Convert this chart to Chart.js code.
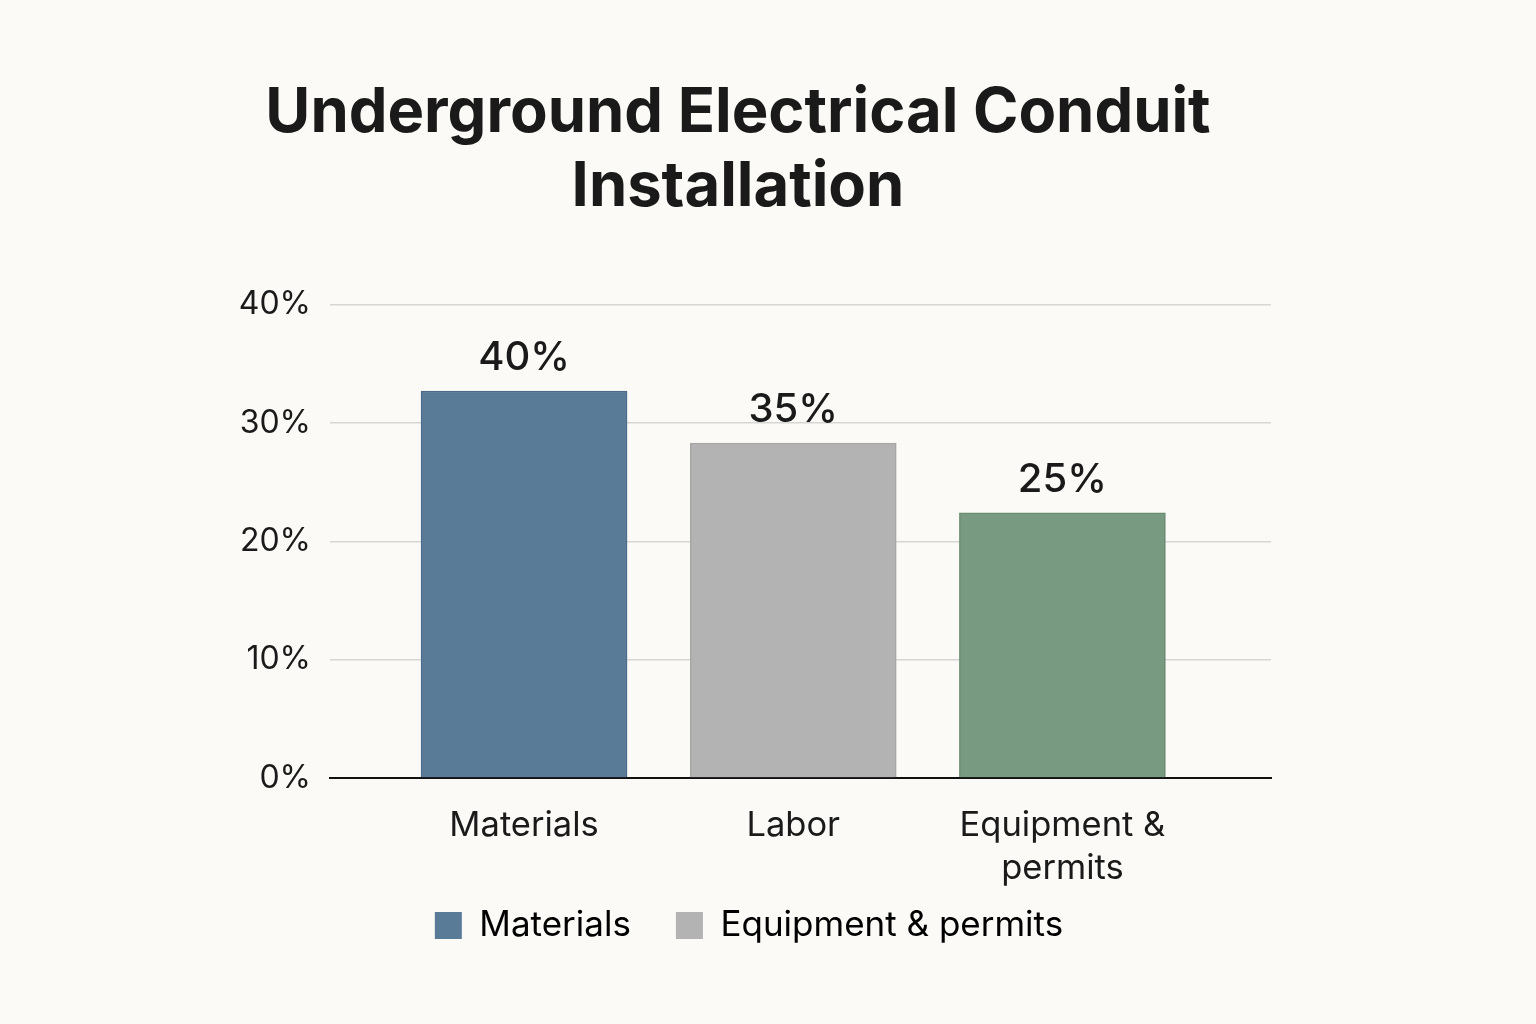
<!DOCTYPE html>
<html lang="en">
<head>
    <meta charset="UTF-8">
    <title>Underground Electrical Conduit Installation</title>
    <script src="https://cdn.jsdelivr.net/npm/chart.js"></script>
    <style>
        html, body {
            margin: 0;
            padding: 0;
            background: #fbfaf6;
        }
        #costChart {
            display: block;
        }
    </style>
</head>
<body>
    <canvas id="costChart" width="1536" height="1024"></canvas>

    <script>
        // Chart data
        const categories = ['Materials', 'Labor', 'Equipment & permits'];
        const categoryTickLines = [['Materials'], ['Labor'], ['Equipment &', 'permits']];
        const barValues = [32.7, 28.3, 22.4];
        const barLabels = ['40%', '35%', '25%'];
        const yTicks = [0, 10, 20, 30, 40];
        const legendNames = ['Materials', 'Equipment & permits'];

        const barColors = ['#5a7b98', '#b3b3b3', '#789a80'];
        const barBorders = ['#4b6b88', '#a6a6a6', '#6a8b72'];
        const legendColors = ['#5a7b98', '#b3b3b3'];

        const textColor = '#1a1a1a';
        const fontFamily = 'Inter, "Noto Sans", sans-serif';

        // Paint the canvas background
        const backgroundPlugin = {
            id: 'background',
            beforeDraw(chart) {
                const ctx = chart.ctx;
                ctx.save();
                ctx.fillStyle = '#fbfaf6';
                ctx.fillRect(0, 0, chart.width, chart.height);
                ctx.restore();
            }
        };

        // x axis is squeezed so the legend sits closer; let its labels spill down.
        // legend is nudged right a little to sit where the original has it
        const layoutTweakPlugin = {
            id: 'layoutTweak',
            afterLayout(chart) {
                chart.scales.x.bottom += 40;
                chart.legend.left += 11;
                chart.legend.right += 11;
            }
        };

        // Value labels above bars
        const barLabelPlugin = {
            id: 'barLabels',
            afterDatasetsDraw(chart) {
                const ctx = chart.ctx;
                const meta = chart.getDatasetMeta(0);
                ctx.save();
                ctx.font = '500 40px ' + fontFamily;
                ctx.fillStyle = textColor;
                ctx.textAlign = 'center';
                ctx.textBaseline = 'alphabetic';
                meta.data.forEach((bar, i) => {
                    ctx.fillText(barLabels[i], bar.x, bar.y - 21);
                });
                ctx.restore();
            }
        };

        new Chart(document.getElementById('costChart'), {
            type: 'bar',
            data: {
                datasets: [{
                    label: 'Cost share',
                    data: barValues.map((v, i) => ({ x: i, y: v })),
                    backgroundColor: barColors,
                    borderColor: barBorders,
                    borderWidth: 1.5,
                    barThickness: 206
                }]
            },
            options: {
                responsive: false,
                animation: false,
                devicePixelRatio: 1,
                layout: {
                    padding: { left: 205, right: 265, top: 77, bottom: 71 }
                },
                scales: {
                    x: {
                        type: 'linear',
                        offset: false,
                        min: -0.721,
                        max: 2.775,
                        grid: { display: false },
                        border: { display: true, color: '#111111', width: 2 },
                        afterBuildTicks(scale) {
                            scale.ticks = categories.map((c, i) => ({ value: i }));
                        },
                        afterFit(scale) {
                            scale.height = 85;
                        },
                        ticks: {
                            padding: 18,
                            maxRotation: 0,
                            autoSkip: false,
                            color: textColor,
                            font: { family: fontFamily, size: 34.5, lineHeight: 1.25 },
                            callback: value => categoryTickLines[value]
                        }
                    },
                    y: {
                        min: 0,
                        max: 40,
                        afterBuildTicks(scale) {
                            scale.ticks = yTicks.map(v => ({ value: v }));
                        },
                        afterFit(scale) {
                            scale.width = 125;
                        },
                        border: { display: false },
                        grid: {
                            color: '#d6d6d4',
                            lineWidth: 1.5,
                            drawTicks: false
                        },
                        ticks: {
                            padding: 19,
                            color: textColor,
                            font: { family: fontFamily, size: 32 },
                            callback: value => value + '%'
                        }
                    }
                },
                plugins: {
                    title: {
                        display: true,
                        text: ['Underground Electrical Conduit', 'Installation'],
                        color: textColor,
                        font: { family: fontFamily, size: 61.5, weight: '700', lineHeight: 1.2 },
                        padding: { top: 0, bottom: 80 }
                    },
                    legend: {
                        display: true,
                        position: 'bottom',
                        labels: {
                            color: textColor,
                            boxWidth: 27,
                            boxHeight: 27,
                            padding: 45,
                            font: { family: fontFamily, size: 35 },
                            generateLabels: () => legendNames.map((name, i) => ({
                                text: name,
                                fillStyle: legendColors[i],
                                strokeStyle: legendColors[i],
                                lineWidth: 0,
                                datasetIndex: 0,
                                hidden: false
                            }))
                        }
                    },
                    tooltip: { enabled: false }
                }
            },
            plugins: [backgroundPlugin, layoutTweakPlugin, barLabelPlugin]
        });
    </script>
</body>
</html>
